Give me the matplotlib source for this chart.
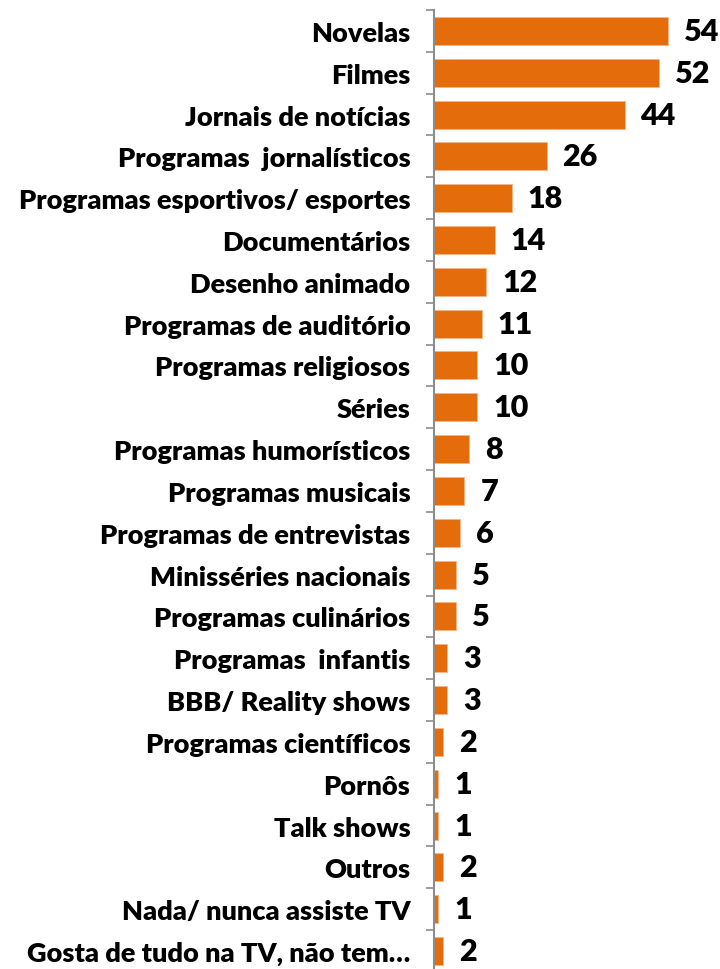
import numpy as np
import matplotlib.pyplot as plt

categories = ['Novelas', 'Filmes', 'Jornais de notícias', 'Programas  jornalísticos',
              'Programas esportivos/ esportes', 'Documentários', 'Desenho animado',
              'Programas de auditório', 'Programas religiosos', 'Séries',
              'Programas humorísticos', 'Programas musicais', 'Programas de entrevistas',
              'Minisséries nacionais', 'Programas culinários', 'Programas  infantis',
              'BBB/ Reality shows', 'Programas científicos', 'Pornôs', 'Talk shows',
              'Outros', 'Nada/ nunca assiste TV', 'Gosta de tudo na TV, não tem…']
values = [54, 52, 44, 26, 18, 14, 12, 11, 10, 10, 8, 7, 6, 5, 5, 3, 3, 2, 1, 1, 2, 1, 2]

plt.rcParams['font.family'] = ['Lato', 'DejaVu Sans']

fig = plt.figure(figsize=(7.2, 9.7), dpi=100)
ax = fig.add_axes([434 / 720, -0.003, 286 / 720, 1 - 11 / 970 + 0.003])

n = len(categories)
y = np.arange(n)
ax.barh(y, values, height=0.67, color='#E46C0A', edgecolor='#F5B58A', linewidth=0.6)
ax.set_ylim(n - 0.5, -0.5)
ax.set_xlim(0, 286 / 4.33)

for yi, v in zip(y, values):
    ax.text(v + 16 / 4.33, yi, str(v), va='center', ha='left',
            fontsize=22, fontweight='heavy', color='black')

ax.set_yticks(y)
ax.set_yticklabels(categories, fontsize=19.5, fontweight='heavy', color='black')
ax.tick_params(axis='y', which='major', length=0, pad=17)
ax.set_yticks(np.arange(-0.5, n, 1), minor=True)
ax.tick_params(axis='y', which='minor', length=6, width=1.2, color='#8c8c8c', direction='out')

ax.set_xticks([])
for s in ['top', 'right', 'bottom']:
    ax.spines[s].set_visible(False)
ax.spines['left'].set_color('#8c8c8c')
ax.spines['left'].set_linewidth(1.5)

fig.savefig('out.png', dpi=100)
